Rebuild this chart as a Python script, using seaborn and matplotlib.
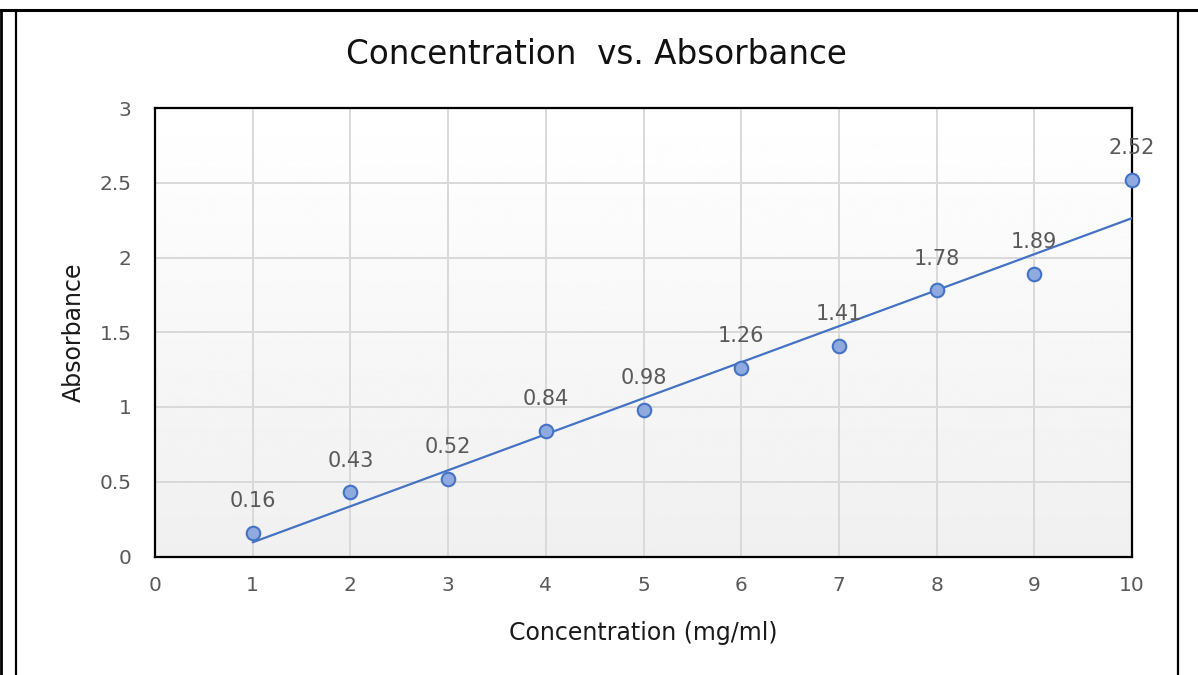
import numpy as np
import pandas as pd
import seaborn as sns
import matplotlib.pyplot as plt
from matplotlib.lines import Line2D

# data
Concentration = [1, 2, 3, 4, 5, 6, 7, 8, 9, 10]
Absorbance = [0.16, 0.43, 0.52, 0.84, 0.98, 1.26, 1.41, 1.78, 1.89, 2.52]
X_Ticks = [0, 1, 2, 3, 4, 5, 6, 7, 8, 9, 10]
Y_Ticks = [0, 0.5, 1, 1.5, 2, 2.5, 3]
Y_Tick_Labels = ["0", "0.5", "1", "1.5", "2", "2.5", "3"]

Data = pd.DataFrame({"Concentration": Concentration, "Absorbance": Absorbance})

sns.set_theme(style="white")
plt.rcParams['font.family'] = ['DejaVu Sans']

Grey_Text = "#595959"
Blue = "#4472C4"

fig = plt.figure(figsize=(11.98, 6.75), dpi=100)
ax = fig.add_axes([155 / 1198, 1 - 556.5 / 675, (1132 - 155) / 1198, (556.5 - 108) / 675])

# light gradient fill in the plot area
Gradient = np.linspace(1.0, 0.94, 256).reshape(-1, 1)
ax.imshow(Gradient, extent=[0, 1, 0, 1], transform=ax.transAxes, cmap="gray",
          vmin=0, vmax=1, aspect="auto", zorder=0)

ax.set_xlim(0, 10)
ax.set_ylim(0, 3)
ax.set_xticks(X_Ticks)
ax.set_yticks(Y_Ticks)
ax.set_yticklabels(Y_Tick_Labels)
ax.grid(True, color="#d9d9d9", linewidth=1.4, zorder=1)
ax.set_axisbelow(True)

sns.regplot(data=Data, x="Concentration", y="Absorbance", ax=ax, scatter=False, ci=None,
            truncate=True, line_kws={"color": Blue, "linewidth": 1.6, "zorder": 3})
sns.scatterplot(data=Data, x="Concentration", y="Absorbance", ax=ax, s=95,
                color="#8eaadf", edgecolor=Blue, linewidth=1.5, zorder=4, clip_on=False)

for x, y in zip(Concentration, Absorbance):
    ax.annotate(f"{y:g}", (x, y), xytext=(0, 18.5), textcoords="offset points",
                ha="center", va="baseline", fontsize=15, color=Grey_Text, zorder=5)

for spine in ax.spines.values():
    spine.set_visible(True)
    spine.set_color("black")
    spine.set_linewidth(1.6)

ax.tick_params(axis="both", length=0, labelsize=14.5, labelcolor=Grey_Text)
ax.tick_params(axis="x", pad=14)
ax.tick_params(axis="y", pad=17)

ax.set_xlabel("Concentration (mg/ml)", fontsize=17, color="#1a1a1a", labelpad=19)
ax.set_ylabel("Absorbance", fontsize=17, color="#1a1a1a", labelpad=10)

fig.text(596 / 1198, 1 - 55 / 675, "Concentration  vs. Absorbance", ha="center", va="center",
         fontsize=23.5, color="#111111")

# outer frame of the chart picture
fig.add_artist(Line2D([0, 1], [1 - 9.5 / 675] * 2, color="black", linewidth=2.2))
fig.add_artist(Line2D([1 / 1198] * 2, [0, 1 - 9.5 / 675], color="black", linewidth=2.0))
fig.add_artist(Line2D([15.5 / 1198] * 2, [0, 1 - 9.5 / 675], color="black", linewidth=1.6))
fig.add_artist(Line2D([1177.5 / 1198] * 2, [0, 1 - 9.5 / 675], color="black", linewidth=1.6))

fig.savefig("out.png", dpi=100)
